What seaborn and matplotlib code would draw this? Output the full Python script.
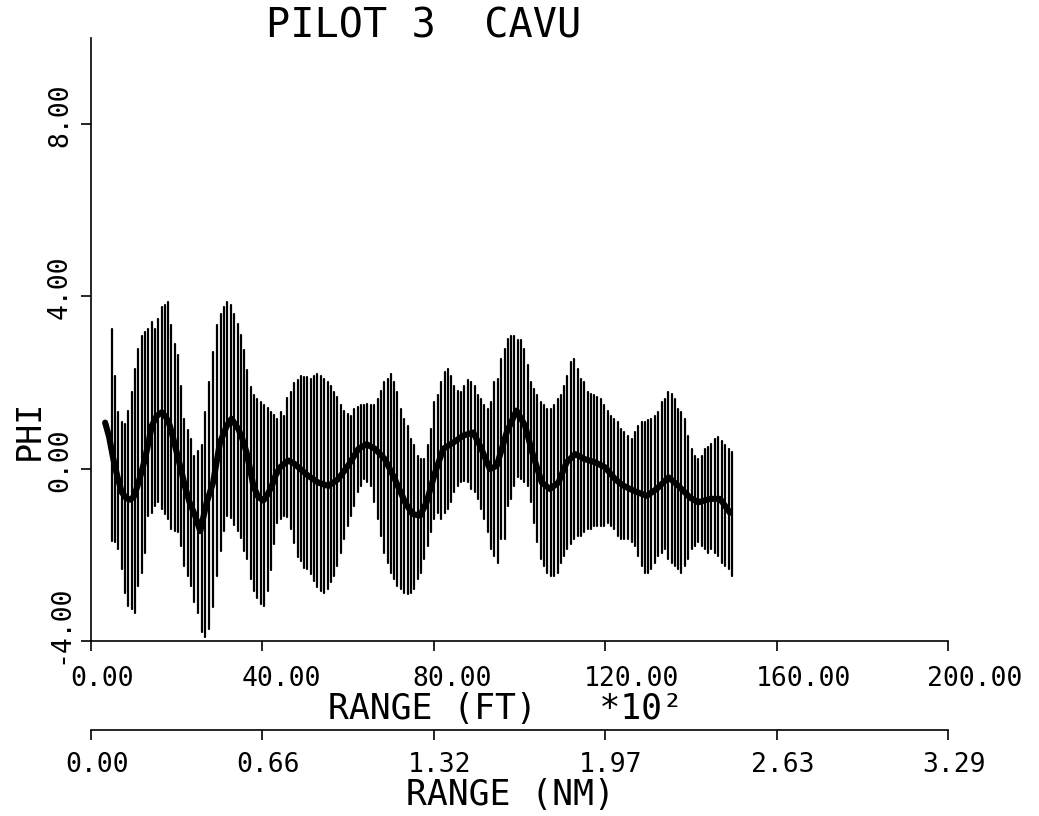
import numpy as np
import pandas as pd
import matplotlib
matplotlib.use("Agg")
import matplotlib.pyplot as plt
import seaborn as sns
from matplotlib.transforms import ScaledTranslation

# ---------------- data ----------------
TITLE = "PILOT 3  CAVU"
X_LABEL = "RANGE (FT)   *10\u00b2"
X2_LABEL = "RANGE (NM)"
Y_LABEL = "PHI"

FT_TICKS = [0, 40, 80, 120, 160, 200]
FT_LABELS = ["0.00", "40.00", "80.00", "120.00", "160.00", "200.00"]
NM_LABELS = ["0.00", "0.66", "1.32", "1.97", "2.63", "3.29"]
PHI_TICKS = [-4, 0, 4, 8]
PHI_LABELS = ["-4.00", "0.00", "4.00", "8.00"]
FT_PER_NM_HUNDREDS = 60.7612  # feet per nautical mile / 100

# vertical bars (range in ft*100, top and bottom of each bar)
BAR_RANGE = [
    4.8, 5.6, 6.4, 7.2, 7.9, 8.7, 9.5, 10.3, 11.0, 11.8, 12.6, 13.4, 14.2, 14.9,
    15.7, 16.5, 17.2, 17.9, 18.7, 19.5, 20.2, 21.0, 21.8, 22.6, 23.3, 24.1, 24.9,
    25.8, 26.6, 27.5, 28.5, 29.5, 30.3, 31.0, 31.8, 32.6, 33.4, 34.2, 34.9, 35.7,
    36.5, 37.3, 38.0, 38.8, 39.6, 40.4, 41.2, 41.9, 42.7, 43.5, 44.3, 45.0, 45.8,
    46.6, 47.4, 48.2, 48.9, 49.7,
    50.5, 51.3, 52.1, 52.8, 53.6, 54.4, 55.2, 56.0, 56.7, 57.5, 58.3, 59.1, 59.9,
    60.6, 61.4, 62.2, 63.0, 63.7, 64.5, 65.3, 66.1, 66.9, 67.6, 68.4, 69.2, 70.0,
    70.8, 71.5, 72.3, 73.1, 73.9, 74.6,
    75.4, 76.2, 77.0, 77.8, 78.6, 79.3, 80.1, 80.9, 81.7, 82.5, 83.2, 84.0, 84.8,
    85.6, 86.3, 87.1, 87.9, 88.7, 89.5, 90.2, 91.0, 91.8, 92.6, 93.4, 94.1, 94.9,
    95.7, 96.5, 97.2, 98.0, 98.8, 99.6,
    100.3, 101.1, 101.9, 102.6, 103.4, 104.2, 105.0, 105.8, 106.5, 107.3, 108.1,
    108.9, 109.7, 110.4, 111.2, 112.0, 112.8, 113.6, 114.3, 115.1, 115.9, 116.7,
    117.4, 118.2, 119.0, 119.8, 120.6, 121.3, 122.1, 122.9, 123.7,
    124.5, 125.4, 126.2, 126.9, 127.7, 128.5, 129.3, 130.1, 130.8, 131.6, 132.4,
    133.2, 134.0, 134.7, 135.5, 136.3, 137.1, 137.8, 138.6, 139.4, 140.2, 141.0,
    141.7, 142.5, 143.3, 144.1, 144.8, 145.6, 146.4, 147.2, 148.0, 148.8, 149.5,
]
BAR_TOP = [
    3.25, 2.16, 1.31, 1.08, 1.04, 1.35, 1.78, 2.32, 2.78, 3.09, 3.17, 3.25, 3.40, 3.25,
    3.48, 3.75, 3.80, 3.87, 3.33, 2.90, 2.63, 1.93, 1.16, 0.90, 0.69, 0.30, 0.40,
    0.54, 1.31, 2.01, 2.71, 3.33, 3.60, 3.75, 3.87, 3.80, 3.60, 3.35, 3.10, 2.75,
    2.30, 1.90, 1.72, 1.62, 1.55, 1.47, 1.40, 1.32, 1.25, 1.16, 1.31, 1.23, 1.65,
    1.78, 1.98, 2.07, 2.15, 2.12,
    2.12, 2.09, 2.15, 2.20, 2.16, 2.09, 2.01, 1.93, 1.78, 1.66, 1.47, 1.35, 1.27,
    1.23, 1.39, 1.43, 1.47, 1.47, 1.50, 1.47, 1.47, 1.62, 1.81, 2.01, 2.09, 2.20,
    2.01, 1.78, 1.39, 1.16, 1.00, 0.69,
    0.54, 0.30, 0.23, 0.23, 0.54, 0.92, 1.54, 1.70, 2.01, 2.24, 2.32, 2.16, 1.93,
    1.81, 1.78, 1.93, 2.05, 2.01, 1.93, 1.70, 1.62, 1.47, 1.39, 1.54, 2.01, 2.09,
    2.55, 2.78, 3.02, 3.09, 3.09, 3.00,
    2.98, 2.78, 2.40, 2.01, 1.85, 1.70, 1.54, 1.47, 1.39, 1.39, 1.47,
    1.62, 1.70, 1.93, 2.16, 2.47, 2.55, 2.32, 2.09, 2.01, 1.78, 1.74,
    1.70, 1.66, 1.62, 1.47, 1.35, 1.23, 1.16, 1.08, 0.92,
    0.85, 0.77, 0.69, 0.85, 1.00, 1.08, 1.08, 1.12, 1.16, 1.23, 1.31,
    1.54, 1.62, 1.78, 1.74, 1.62, 1.39, 1.31, 1.16, 0.77, 0.46, 0.30,
    0.23, 0.30, 0.46, 0.50, 0.57, 0.69, 0.73, 0.65, 0.54, 0.46, 0.38,
]
BAR_BOTTOM = [
    -1.67, -1.71, -1.87, -2.33, -2.88, -3.19, -3.26, -3.34, -2.72, -2.41, -1.95, -1.09, -1.02, -0.86,
    -0.78, -0.94, -1.05, -1.17, -1.40, -1.45, -1.48, -1.79, -2.26, -2.50, -2.72, -3.10, -3.35,
    -3.80, -3.90, -3.73, -3.20, -2.50, -1.90, -1.45, -1.10, -1.15, -1.30, -1.45, -1.60, -1.90,
    -2.10, -2.55, -2.85, -3.00, -3.15, -3.19, -2.85, -2.35, -1.75, -1.25, -1.17, -1.09, -1.12,
    -1.40, -1.72, -2.05, -2.15, -2.30,
    -2.33, -2.45, -2.60, -2.75, -2.85, -2.88, -2.80, -2.64, -2.49, -2.26, -1.95, -1.63, -1.33,
    -1.09, -0.86, -0.55, -0.39, -0.24, -0.32, -0.39, -0.78, -1.17, -1.56, -1.95, -2.18, -2.41,
    -2.57, -2.72, -2.80, -2.88, -2.91, -2.88,
    -2.80, -2.57, -2.41, -2.10, -1.79, -1.48, -1.17, -1.02, -1.17, -1.02, -0.94, -0.78, -0.55,
    -0.39, -0.32, -0.28, -0.32, -0.47, -0.55, -0.70, -0.94, -1.17, -1.48, -1.87, -2.02, -2.18,
    -1.63, -1.63, -0.86, -0.70, -0.39, -0.20,
    -0.24, -0.32, -0.39, -0.78, -1.25, -1.71, -2.10, -2.26, -2.41, -2.49, -2.49,
    -2.41, -2.18, -2.02, -1.87, -1.75, -1.63, -1.56, -1.56, -1.48, -1.40, -1.40,
    -1.33, -1.33, -1.33, -1.33, -1.25, -1.33, -1.40, -1.56, -1.63,
    -1.63, -1.63, -1.71, -1.79, -2.02, -2.26, -2.41, -2.41, -2.33, -2.18, -2.02,
    -1.95, -1.87, -2.10, -2.18, -2.26, -2.33, -2.41, -2.26, -2.10, -1.87, -1.79,
    -1.71, -1.79, -1.87, -1.95, -1.87, -1.95, -2.02, -2.18, -2.26, -2.33, -2.49,
]

# mean PHI curve
MEAN_RANGE = [
    3.3, 4.2, 5.2, 6.2, 7.2, 8.2, 9.1, 10.0, 11.0, 12.0, 12.6, 13.4, 14.2, 15.3,
    16.5, 17.5, 18.4, 19.2, 20.0, 21.0, 21.9, 23.0, 24.3, 25.5, 27.0, 28.5, 29.3,
    30.1, 31.7, 32.8, 34.4, 35.3, 36.3, 37.1, 37.9, 39.0, 40.2, 41.2, 42.2, 43.1,
    44.1, 46.0, 47.4, 48.8, 50.5, 53.0, 55.4, 57.7, 60.0, 62.4, 64.3, 66.3, 68.6,
    70.9, 73.3, 75.0, 76.8, 78.3, 80.3, 82.2, 84.6, 86.9, 89.2, 90.8, 93.1, 94.7,
    97.0, 99.3, 101.3, 103.2, 105.2, 107.1, 109.1, 111.0, 113.0, 115.3, 117.6,
    120.0, 122.3, 124.0, 126.6, 129.7, 132.0, 134.8, 137.1, 139.8, 141.7, 144.5,
    146.8, 149.1,
]
MEAN_PHI = [
    1.07, 0.75, 0.23, -0.20, -0.55, -0.68, -0.72, -0.65, -0.35, 0.00, 0.23, 0.60, 1.00, 1.22,
    1.31, 1.20, 1.00, 0.70, 0.38, -0.02, -0.40, -0.78, -1.09, -1.45, -0.78, -0.32, 0.15,
    0.61, 1.00, 1.16, 0.92, 0.70, 0.38, 0.00, -0.40, -0.65, -0.74, -0.60, -0.40, -0.15,
    0.03, 0.19, 0.12, 0.00, -0.15, -0.32, -0.40, -0.24, 0.07, 0.46, 0.57, 0.46, 0.22,
    -0.24, -0.78, -1.05, -1.09, -0.78, -0.09, 0.46, 0.61, 0.77, 0.84, 0.53, -0.01, 0.07,
    0.84, 1.35, 1.00, 0.30, -0.32, -0.47, -0.32, 0.15, 0.34, 0.22, 0.15,
    0.03, -0.24, -0.38, -0.51, -0.63, -0.47, -0.20, -0.40, -0.67, -0.78, -0.70,
    -0.70, -1.02,
]

# ---------------- style ----------------
sns.set_theme(style="ticks")
plt.rcParams["font.family"] = ["DejaVu Sans Mono", "DejaVu Sans"]
plt.rcParams["axes.linewidth"] = 1.2
plt.rcParams["text.color"] = "black"
plt.rcParams["axes.labelcolor"] = "black"

fig = plt.figure(figsize=(10.39, 8.16), dpi=100)
ax = fig.add_axes([91 / 1039, 1 - 641 / 816, 857 / 1039, (641 - 38) / 816])

n = len(BAR_RANGE)
bars = pd.DataFrame({
    "range": np.repeat(BAR_RANGE, 2),
    "phi": np.column_stack([BAR_BOTTOM, BAR_TOP]).ravel(),
    "bar": np.repeat(np.arange(n), 2),
})
sns.lineplot(data=bars, x="range", y="phi", units="bar", estimator=None,
             color="black", linewidth=1.6, ax=ax, legend=False)

mean_df = pd.DataFrame({"range": MEAN_RANGE, "phi": MEAN_PHI})
sns.lineplot(data=mean_df, x="range", y="phi", color="black", linewidth=4.4,
             ax=ax, legend=False)

ax.set_xlim(0, 200)
ax.set_ylim(-4, 10)
sns.despine(ax=ax)
for s in ("left", "bottom"):
    ax.spines[s].set_color("black")
    ax.spines[s].set_linewidth(1.2)

ax.set_xticks(FT_TICKS, labels=FT_LABELS)
ax.set_yticks(PHI_TICKS, labels=PHI_LABELS)
ax.tick_params(axis="x", direction="out", length=7, width=1.2, colors="black",
               labelsize=19, pad=11)
ax.tick_params(axis="y", direction="out", length=7, width=1.2, colors="black",
               labelsize=19, pad=6)

for lab in ax.get_xticklabels():
    lab.set_horizontalalignment("left")
    lab.set_transform(lab.get_transform() + ScaledTranslation(-21 / 100, 0, fig.dpi_scale_trans))
for lab in ax.get_yticklabels():
    lab.set_rotation(90)
    lab.set_horizontalalignment("right")
    lab.set_verticalalignment("bottom")
    lab.set_transform(lab.get_transform() + ScaledTranslation(0, -23 / 100, fig.dpi_scale_trans))

ax.set_xlabel(X_LABEL, fontsize=25, labelpad=0)
ax.xaxis.label.set_x((505 - 91) / 857)
ax.set_ylabel(Y_LABEL, fontsize=24)
ax.yaxis.set_label_coords(-0.0525, 0.35)

ax.set_title(TITLE, fontsize=29, x=(424 - 91) / 857, y=1.0, pad=0.5)

# second range axis in nautical miles
secax = ax.secondary_xaxis(
    (641 - 730) / 603,
    functions=(lambda x: x / FT_PER_NM_HUNDREDS, lambda x: x * FT_PER_NM_HUNDREDS),
)
secax.set_xticks(np.array(FT_TICKS) / FT_PER_NM_HUNDREDS, labels=NM_LABELS)
secax.tick_params(axis="x", direction="out", length=7, width=1.2, colors="black",
                  labelsize=19, pad=9)
secax.spines["bottom"].set_color("black")
secax.spines["bottom"].set_linewidth(1.2)
for lab in secax.get_xticklabels():
    lab.set_horizontalalignment("left")
    lab.set_transform(lab.get_transform() + ScaledTranslation(-26 / 100, 0, fig.dpi_scale_trans))
secax.set_xlabel(X2_LABEL, fontsize=25, labelpad=0)
secax.xaxis.label.set_x((510 - 91) / 857)

fig.savefig("out.png", dpi=100, facecolor="white")
